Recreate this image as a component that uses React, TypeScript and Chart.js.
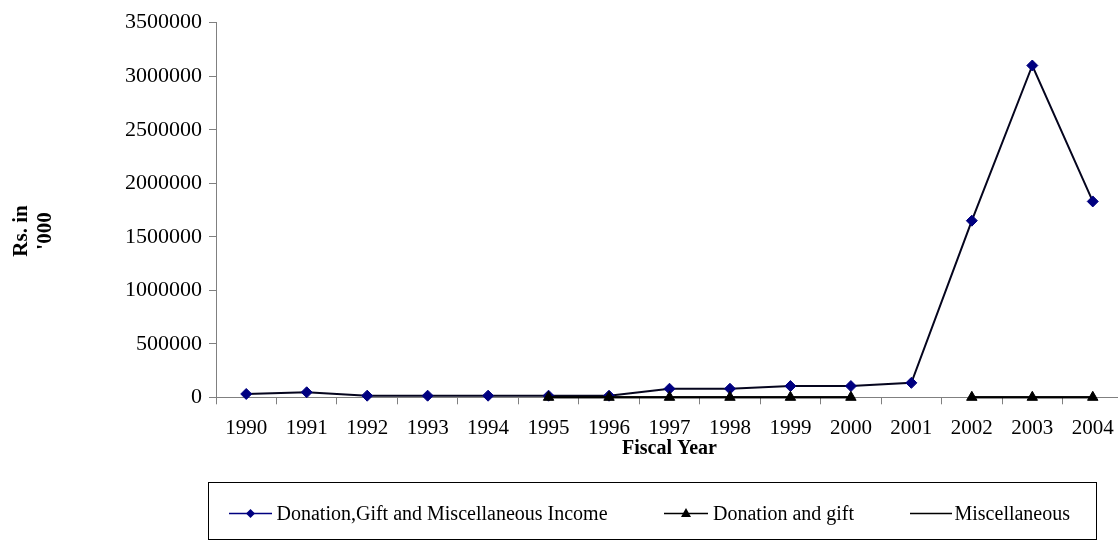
import React, { useEffect, useRef } from 'react';
import { Chart, registerables } from 'chart.js';

Chart.register(...registerables);

const fiscalYears = ['1990', '1991', '1992', '1993', '1994', '1995', '1996', '1997', '1998', '1999', '2000', '2001', '2002', '2003', '2004'];
const donationGiftMiscIncome = [31000, 47000, 15000, 15000, 15000, 15000, 15000, 80000, 80000, 105000, 105000, 135000, 1650000, 3100000, 1830000];
const donationAndGift = [null, null, null, null, null, 0, 0, 0, 0, 0, 0, null, 0, 0, 0];
const miscellaneous = [null, null, null, null, null, 0, 0, 0, 0, 0, 0, null, 0, 0, 0];
const seriesNames = ['Donation,Gift and Miscellaneous Income', 'Donation and gift', 'Miscellaneous'];
const yAxisTitle = ['Rs. in', "'000"];
const xAxisTitle = 'Fiscal Year';

const FONT = '"Liberation Serif", "Times New Roman", serif';
const NAVY = '#000080';

const boxLegendPlugin = {
  id: 'boxLegend',
  afterDraw(chart: any) {
    const ctx = chart.ctx as CanvasRenderingContext2D;
    ctx.save();
    // Y axis title (rotated, two lines)
    ctx.save();
    ctx.font = `bold 21px ${FONT}`;
    ctx.fillStyle = '#000';
    ctx.textAlign = 'center';
    ctx.textBaseline = 'middle';
    ctx.translate(22, 231);
    ctx.rotate(-Math.PI / 2);
    yAxisTitle.forEach((t, i) => ctx.fillText(t, 0, i * 24));
    ctx.restore();

    // Legend box
    ctx.strokeStyle = '#000';
    ctx.lineWidth = 1;
    ctx.strokeRect(208.5, 482.5, 888, 57);

    const cy = 513.5;
    const items = [
      { x1: 229, x2: 272, tx: 276.5, color: NAVY, marker: 'diamond' },
      { x1: 664, x2: 708, tx: 713, color: '#000', marker: 'triangle' },
      { x1: 910, x2: 952, tx: 954.5, color: '#000', marker: 'none' },
    ];
    items.forEach((it, i) => {
      ctx.strokeStyle = it.color;
      ctx.lineWidth = 1.5;
      ctx.beginPath();
      ctx.moveTo(it.x1, cy);
      ctx.lineTo(it.x2, cy);
      ctx.stroke();
      const mx = (it.x1 + it.x2) / 2;
      ctx.fillStyle = it.color;
      if (it.marker === 'diamond') {
        ctx.beginPath();
        ctx.moveTo(mx, cy - 4.5);
        ctx.lineTo(mx + 4.5, cy);
        ctx.lineTo(mx, cy + 4.5);
        ctx.lineTo(mx - 4.5, cy);
        ctx.closePath();
        ctx.fill();
      } else if (it.marker === 'triangle') {
        ctx.beginPath();
        ctx.moveTo(mx, cy - 5.5);
        ctx.lineTo(mx + 5, cy + 3.5);
        ctx.lineTo(mx - 5, cy + 3.5);
        ctx.closePath();
        ctx.fill();
      }
      ctx.fillStyle = '#000';
      ctx.font = `20px ${FONT}`;
      ctx.textAlign = 'left';
      ctx.textBaseline = 'middle';
      ctx.fillText(seriesNames[i], it.tx, cy + 1);
    });
    ctx.restore();
  },
};

export default function App() {
  const ref = useRef<HTMLCanvasElement | null>(null);

  useEffect(() => {
    if (!ref.current) return;
    const chart = new Chart(ref.current, {
      type: 'line',
      data: {
        labels: fiscalYears,
        datasets: [
          {
            label: seriesNames[0],
            data: donationGiftMiscIncome,
            borderColor: '#05051e',
            borderWidth: 2,
            pointStyle: 'rectRot',
            pointRadius: 5.5,
            pointBackgroundColor: NAVY,
            pointBorderColor: NAVY,
            pointBorderWidth: 1,
            tension: 0,
            clip: false,
            order: 2,
          },
          {
            label: seriesNames[1],
            data: donationAndGift,
            borderColor: '#000',
            borderWidth: 2,
            pointStyle: 'triangle',
            pointRadius: 6,
            pointBackgroundColor: '#000',
            pointBorderColor: '#000',
            pointBorderWidth: 1,
            spanGaps: false,
            tension: 0,
            clip: false,
            order: 0,
          },
          {
            label: seriesNames[2],
            data: miscellaneous,
            borderColor: '#000',
            borderWidth: 2,
            pointRadius: 0,
            spanGaps: false,
            tension: 0,
            clip: false,
            order: 1,
          },
        ],
      },
      options: {
        responsive: false,
        animation: false,
        layout: { padding: { left: 0, right: 5, top: 22.7, bottom: 79 } },
        plugins: {
          legend: { display: false },
          tooltip: { enabled: false },
        },
        font: { family: FONT },
        scales: {
          x: {
            type: 'category',
            offset: true,
            grid: { offset: true, drawOnChartArea: false, drawTicks: true, tickLength: 7, color: '#808080' },
            border: { color: '#808080', width: 1 },
            ticks: { font: { family: FONT, size: 21 }, color: '#000', padding: 12, maxRotation: 0, autoSkip: false },
            title: { display: true, text: xAxisTitle, font: { family: FONT, size: 20, weight: 'bold' }, color: '#000', padding: { top: 0, bottom: 0 } },
            afterFit(scale: any) { scale.height = 63.7; },
          },
          y: {
            min: 0,
            max: 3500000,
            ticks: {
              stepSize: 500000,
              font: { family: FONT, size: 22 },
              color: '#000',
              padding: 7,
              callback: (v: any) => String(v),
            },
            grid: { drawOnChartArea: false, drawTicks: true, tickLength: 7, color: '#808080' },
            border: { color: '#808080', width: 1 },
            afterFit(scale: any) { scale.width = 216; },
          },
        },
      } as any,
      plugins: [boxLegendPlugin],
    });
    return () => chart.destroy();
  }, []);

  return (
    <div style={{ position: 'absolute', left: 0, top: 0, width: 1118, height: 540, overflow: 'hidden', background: '#fff' }}>
      <canvas ref={ref} width={1130} height={540} style={{ display: 'block' }} />
    </div>
  );
}
